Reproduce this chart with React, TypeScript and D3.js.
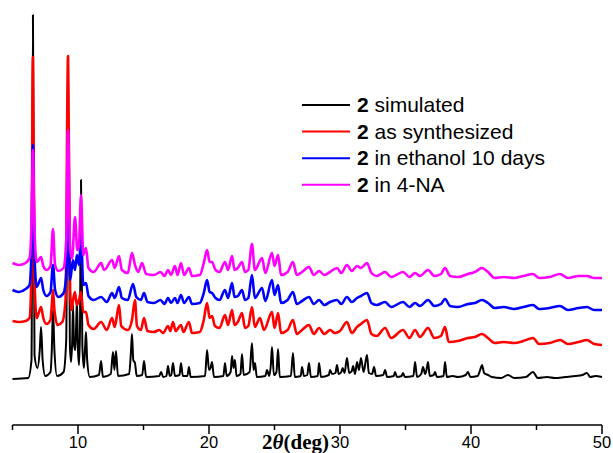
import React from "react";
import * as d3 from "d3";

type Pt = [number, number];

const seriesNames = ["simulated", "as synthesized", "in ethanol 10 days", "in 4-NA"];
const seriesColors = ["#000000", "#ff0000", "#0000ff", "#ff00ff"];

const simulated: Pt[] = [[5,21],[6.2,22],[6.45,40],[6.56,385],[6.68,45],[6.9,32],[7.08,50],[7.18,73],[7.3,40],[7.5,24],[7.9,28],[8.0,50],[8.09,90],[8.2,50],[8.4,24],[8.9,28],[9.1,60],[9.24,334],[9.38,55],[9.47,38],[9.56,60],[9.62,95],[9.7,55],[9.8,50],[9.87,80],[9.92,100],[10.0,50],[10.08,35],[10.15,70],[10.23,220],[10.33,55],[10.45,32],[10.55,55],[10.61,68],[10.7,40],[10.9,23],[11.6,25],[11.76,39],[11.9,23],[12.5,26],[12.67,48],[12.78,30],[12.9,49],[13.05,24],[13.9,26],[14.05,50],[14.12,66],[14.22,40],[14.35,37],[14.48,24],[14.9,25],[15.04,39],[15.2,23],[16.2,24],[16.34,28],[16.5,23],[16.75,24],[16.87,34],[17.0,24],[17.12,25],[17.25,37],[17.4,24],[17.75,25],[17.86,37],[18.0,24],[18.35,24],[18.47,33],[18.6,23],[19.7,24],[19.85,50],[20.0,30],[20.12,32],[20.23,38],[20.38,23],[21.1,24],[21.22,37],[21.35,24],[21.65,28],[21.76,44],[21.87,32],[21.98,40],[22.1,24],[22.4,26],[22.52,46],[22.65,25],[23.1,28],[23.28,57],[23.4,30],[23.51,37],[23.65,23],[24.3,24],[24.43,30],[24.6,24],[24.72,35],[24.81,53],[24.95,25],[25.15,28],[25.27,51],[25.4,23],[26.25,24],[26.41,47],[26.55,23],[27.0,24],[27.1,33],[27.25,24],[27.5,25],[27.63,37],[27.78,23],[28.3,24],[28.4,37],[28.55,23],[29.15,25],[29.24,30],[29.4,26],[29.65,27],[29.77,35],[29.9,26],[30.1,28],[30.2,32],[30.35,27],[30.53,42],[30.7,27],[30.9,29],[31.0,34],[31.15,26],[31.3,38],[31.45,30],[31.6,42],[31.8,28],[32.06,45],[32.2,27],[32.45,26],[32.6,33],[32.75,24],[33.3,25],[33.44,30],[33.6,23],[34.1,24],[34.2,28],[34.35,23],[34.7,24],[34.81,27],[34.95,23],[35.6,24],[35.73,38],[35.88,23],[36.2,26],[36.34,33],[36.5,26],[36.6,30],[36.72,38],[36.85,24],[37.15,25],[37.25,28],[37.4,23],[37.9,24],[38.02,38],[38.15,23],[38.6,24],[39.0,23],[39.6,25],[39.77,28],[39.95,23],[40.5,24],[40.7,30],[40.84,35],[41.0,27],[41.3,25],[41.6,23],[42.3,22],[42.82,25],[43.3,22],[44.2,23],[44.73,28],[45.1,22],[45.8,23],[46.4,22],[47.2,23],[48.0,24],[48.5,25],[48.85,27],[49.1,23],[49.5,24],[50,23]];

const asSynthesized: Pt[] = [[5,79],[5.5,78],[6.0,79],[6.3,82],[6.45,130],[6.56,343],[6.68,120],[6.85,82],[7.0,87],[7.18,93],[7.35,82],[7.6,76],[7.9,80],[8.0,95],[8.09,110],[8.2,90],[8.45,75],[8.8,78],[9.05,100],[9.24,344],[9.4,110],[9.52,90],[9.62,100],[9.77,108],[9.9,95],[10.08,100],[10.23,108],[10.4,88],[10.61,88],[10.8,75],[11.2,71],[11.76,78],[12.2,70],[12.6,82],[12.8,73],[13.13,95],[13.3,74],[13.8,70],[14.12,80],[14.35,100],[14.5,74],[14.8,70],[15.04,82],[15.3,69],[15.8,68],[16.2,70],[16.5,67],[16.87,74],[17.05,69],[17.25,78],[17.45,69],[17.86,75],[18.05,68],[18.47,78],[18.7,67],[19.3,68],[19.6,80],[19.85,97],[20.05,82],[20.23,84],[20.45,74],[20.8,72],[21.22,85],[21.45,75],[21.76,90],[21.95,75],[22.2,78],[22.52,87],[22.75,72],[23.0,74],[23.28,93],[23.5,73],[23.89,82],[24.2,70],[24.81,88],[25.0,72],[25.27,87],[25.5,67],[26.0,70],[26.41,80],[26.7,66],[27.1,70],[27.63,75],[28.0,66],[28.4,72],[28.8,66],[29.24,70],[29.6,67],[30.0,69],[30.53,78],[30.9,67],[31.3,73],[31.6,76],[32.06,80],[32.4,66],[32.8,64],[33.44,72],[33.9,62],[34.81,70],[35.3,62],[35.73,70],[36.1,63],[36.72,72],[37.2,62],[37.7,64],[38.02,73],[38.3,58],[39.0,59],[39.77,62],[40.3,63],[40.84,66],[41.3,62],[41.8,57],[42.5,58],[43.3,57],[44.0,59],[44.73,62],[45.2,56],[46.0,57],[46.8,60],[47.4,56],[48.2,58],[48.85,60],[49.4,56],[50,55]];

const inEthanol: Pt[] = [[5,110],[5.5,108],[6.0,111],[6.3,115],[6.45,150],[6.56,255],[6.68,145],[6.85,113],[7.0,117],[7.18,122],[7.35,110],[7.6,104],[7.9,108],[8.09,135],[8.25,110],[8.5,103],[8.9,107],[9.1,125],[9.24,180],[9.4,120],[9.62,140],[9.77,130],[9.92,145],[10.08,135],[10.23,167],[10.4,115],[10.61,117],[10.8,104],[11.2,100],[11.76,103],[12.2,98],[12.6,107],[12.8,102],[13.13,113],[13.35,102],[13.8,100],[14.2,116],[14.45,103],[14.8,100],[15.04,107],[15.3,98],[15.8,97],[16.3,100],[16.6,96],[16.87,102],[17.1,97],[17.4,102],[17.6,97],[17.86,105],[18.1,97],[18.47,103],[18.7,96],[19.3,97],[19.6,107],[19.85,120],[20.05,108],[20.23,107],[20.5,102],[20.8,100],[21.22,110],[21.45,102],[21.76,117],[21.95,103],[22.2,104],[22.52,110],[22.75,100],[23.0,102],[23.28,125],[23.5,102],[24.05,112],[24.3,99],[24.81,120],[25.0,105],[25.27,115],[25.5,97],[26.0,100],[26.41,108],[26.7,96],[27.1,99],[27.63,103],[28.0,96],[28.4,100],[28.8,95],[29.24,98],[29.77,100],[30.1,96],[30.53,103],[30.9,98],[31.3,102],[31.6,104],[32.06,107],[32.4,97],[32.8,95],[33.44,98],[33.9,93],[34.81,98],[35.3,93],[35.73,97],[36.1,94],[36.72,100],[37.2,94],[37.7,96],[38.02,101],[38.4,94],[39.0,93],[39.77,96],[40.3,97],[40.84,100],[41.3,97],[41.8,92],[42.5,93],[43.3,91],[44.0,93],[44.73,95],[45.2,91],[46.0,92],[46.79,94],[47.4,90],[48.2,92],[48.85,93],[49.4,90],[50,90]];

const in4NA: Pt[] = [[5,137],[5.5,135],[6.0,137],[6.3,142],[6.45,175],[6.56,250],[6.68,170],[6.85,138],[7.0,140],[7.18,143],[7.35,134],[7.6,130],[7.9,134],[8.09,171],[8.25,135],[8.5,129],[8.9,132],[9.1,160],[9.24,270],[9.4,150],[9.55,142],[9.77,183],[9.95,150],[10.08,155],[10.23,205],[10.4,145],[10.61,152],[10.8,132],[11.2,128],[11.76,137],[12.0,130],[12.6,140],[12.8,132],[13.13,144],[13.35,130],[13.8,127],[14.12,147],[14.35,135],[14.6,128],[14.89,137],[15.2,126],[15.8,125],[16.3,128],[16.6,124],[16.87,130],[17.1,125],[17.4,134],[17.6,125],[17.86,137],[18.1,125],[18.47,132],[18.7,124],[19.3,125],[19.6,137],[19.85,150],[20.05,138],[20.23,138],[20.5,130],[20.8,128],[21.22,138],[21.45,130],[21.76,144],[21.95,130],[22.2,132],[22.52,138],[22.75,128],[23.0,130],[23.28,156],[23.5,130],[24.05,142],[24.3,127],[24.81,147],[25.0,134],[25.27,145],[25.5,125],[26.0,128],[26.41,138],[26.7,125],[27.1,128],[27.63,133],[28.0,125],[28.4,129],[28.8,125],[29.24,128],[29.77,132],[30.1,127],[30.53,135],[30.9,129],[31.3,134],[31.6,132],[32.06,137],[32.4,127],[32.8,124],[33.44,128],[33.9,123],[34.81,128],[35.3,123],[35.73,127],[36.1,124],[36.72,130],[37.2,124],[37.7,126],[38.02,132],[38.4,124],[39.0,123],[39.77,126],[40.3,128],[40.84,132],[41.3,128],[41.8,122],[42.5,123],[43.3,122],[44.0,124],[44.73,126],[45.2,122],[46.0,123],[46.79,126],[47.4,122],[48.2,124],[48.85,124],[49.4,122],[50,122]];

const majorTicks = [10, 20, 30, 40, 50];
const minorTicks = [5, 15, 25, 35, 45];

const W = 613;
const H = 453;

export default function App() {
  const x = d3.scaleLinear().domain([5, 50]).range([12.5, 602]);
  const y = d3.scaleLinear().domain([0, 400]).range([400, 0]);
  const axisY = 425;
  const line = d3
    .line<Pt>()
    .x((d) => x(d[0]))
    .y((d) => y(d[1]))
    .curve(d3.curveMonotoneX);
  const allSeries = [simulated, asSynthesized, inEthanol, in4NA];
  const widths = [2, 2.6, 2.6, 2.6];

  const legendX = 302;
  const legendY0 = 105;
  const legendDy = 26.6;

  return (
    <svg
      width={W}
      height={H}
      style={{ position: "absolute", left: 0, top: 0, background: "#fff" }}
    >
      <rect x={0} y={0} width={W} height={H} fill="#fff" />
      {allSeries.map((s, i) => (
        <path
          key={i}
          d={line(s) || ""}
          fill="none"
          stroke={seriesColors[i]}
          strokeWidth={widths[i]}
          strokeLinejoin="round"
        />
      ))}
      <line x1={x(5)} x2={x(50)} y1={axisY} y2={axisY} stroke="#000" strokeWidth={1.5} />
      {majorTicks.map((t) => (
        <g key={"M" + t}>
          <line x1={x(t)} x2={x(t)} y1={axisY} y2={axisY + 9} stroke="#000" strokeWidth={1.5} />
          <text
            x={x(t)}
            y={448}
            textAnchor="middle"
            fontFamily="'Liberation Sans', Arial, sans-serif"
            fontSize={16.5}
            fill="#000"
          >
            {t}
          </text>
        </g>
      ))}
      {minorTicks.map((t) => (
        <line key={"m" + t} x1={x(t)} x2={x(t)} y1={axisY} y2={axisY + 5} stroke="#000" strokeWidth={1.5} />
      ))}
      <text
        x={329}
        y={449}
        textAnchor="end"
        fontFamily="'Liberation Serif', 'Times New Roman', serif"
        fontSize={21}
        fontWeight="bold"
        fill="#000"
      >
        2<tspan fontStyle="italic">θ</tspan>(deg)
      </text>
      {seriesNames.map((n, i) => (
        <g key={n}>
          <line
            x1={legendX}
            x2={legendX + 48}
            y1={legendY0 + i * legendDy}
            y2={legendY0 + i * legendDy}
            stroke={seriesColors[i]}
            strokeWidth={2}
          />
          <text
            x={legendX + 55}
            y={legendY0 + i * legendDy + 7}
            fontFamily="'Liberation Sans', Arial, sans-serif"
            fontSize={21}
            fill="#000"
          >
            <tspan fontWeight="bold">2</tspan> {n}
          </text>
        </g>
      ))}
    </svg>
  );
}
